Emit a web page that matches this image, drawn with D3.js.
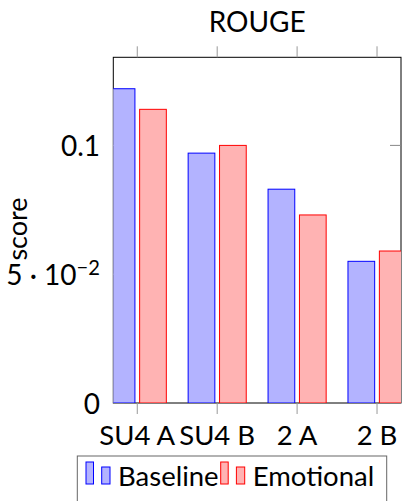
<!DOCTYPE html>
<html>
<head>
<meta charset="utf-8">
<script src="https://cdn.jsdelivr.net/npm/d3@7"></script>
<style>
	body { margin: 0; background: #fff; }
	svg { display: block; }
	text { font-family: Lato, "Open Sans", sans-serif; fill: #000; }
</style>
</head>
<body>
<div class="wrapper"></div>
<script>

var categories = ["SU4 A", "SU4 B", "2 A", "2 B"];
var baseline = [0.122, 0.097, 0.083, 0.055];
var emotional = [0.114, 0.100, 0.073, 0.059];
var seriesNames = ["Baseline", "Emotional"];
var yTicks = [0, 0.05, 0.1];
var title = "ROUGE";
var yLabel = "score";

(function() {

	var W = 402,
		H = 501,
		LEFT = 113.3,
		RIGHT = 401,
		TOP = 57.3,
		BOTTOM = 403,
		BAR_W = 26.7,
		BAR_OFF = 15.7,
		FONT = 28;

	var colors = [
		{fill: "#b3b3ff", stroke: "#0000ff"},
		{fill: "#ffb3b3", stroke: "#ff0000"}
	];

	var x = d3.scalePoint()
		.domain(categories)
		.range([LEFT, RIGHT])
		.padding(0.3);

	var y = d3.scaleLinear()
		.domain([0, 0.1342])
		.range([BOTTOM, TOP]);

	var svg = d3.select(".wrapper")
		.append("svg")
			.attr("width", W)
			.attr("height", H);

	svg.append("defs")
		.append("clipPath")
			.attr("id", "plotclip")
		.append("rect")
			.attr("x", LEFT)
			.attr("y", TOP)
			.attr("width", RIGHT - LEFT)
			.attr("height", BOTTOM - TOP);

	// ---------------- frame + ticks (under the bars) ---------------- //

	svg.append("rect")
		.attr("x", LEFT)
		.attr("y", TOP)
		.attr("width", RIGHT - LEFT)
		.attr("height", BOTTOM - TOP)
		.attr("fill", "none")
		.attr("stroke", "#000")
		.attr("stroke-width", 1);

	// x ticks, outside, top and bottom
	svg.selectAll(".xtick")
		.data(categories)
		.enter()
		.append("g")
			.attr("class", "xtick")
		.each(function(d) {
			var g = d3.select(this);
			g.append("line")
				.attr("x1", x(d)).attr("x2", x(d))
				.attr("y1", TOP - 11).attr("y2", TOP)
				.attr("stroke", "#999").attr("stroke-width", 1);
			g.append("line")
				.attr("x1", x(d)).attr("x2", x(d))
				.attr("y1", BOTTOM).attr("y2", BOTTOM + 11)
				.attr("stroke", "#999").attr("stroke-width", 1);
		});

	// y ticks, inside, left and right
	svg.selectAll(".ytick")
		.data(yTicks)
		.enter()
		.append("g")
			.attr("class", "ytick")
		.each(function(d) {
			var g = d3.select(this);
			g.append("line")
				.attr("x1", LEFT).attr("x2", LEFT + 11)
				.attr("y1", y(d)).attr("y2", y(d))
				.attr("stroke", "#888").attr("stroke-width", 1);
			g.append("line")
				.attr("x1", RIGHT - 11).attr("x2", RIGHT)
				.attr("y1", y(d)).attr("y2", y(d))
				.attr("stroke", "#888").attr("stroke-width", 1);
		});

	// ---------------- bars ---------------- //

	var series = [baseline, emotional];

	var bars = svg.append("g")
		.attr("clip-path", "url(#plotclip)");

	series.forEach(function(vals, s) {
		bars.selectAll(".bar" + s)
			.data(vals)
			.enter()
			.append("rect")
				.attr("class", "bar" + s)
				.attr("x", function(d, i) {
					return x(categories[i]) + (s === 0 ? -BAR_OFF : BAR_OFF) - BAR_W / 2;
				})
				.attr("y", function(d) {return y(d);})
				.attr("width", BAR_W)
				.attr("height", function(d) {return y(0) - y(d);})
				.attr("fill", colors[s].fill)
				.attr("stroke", colors[s].stroke)
				.attr("stroke-width", 1);
	});

	// ---------------- labels ---------------- //

	svg.append("text")
		.attr("x", (LEFT + RIGHT) / 2)
		.attr("y", 31.5)
		.attr("text-anchor", "middle")
		.attr("font-size", FONT)
		.text(title);

	svg.selectAll(".xlabel")
		.data(categories)
		.enter()
		.append("text")
			.attr("class", "xlabel")
			.attr("x", function(d) {return x(d);})
			.attr("y", 445)
			.attr("text-anchor", "middle")
			.attr("font-size", FONT - 0.5)
			.text(function(d) {return d;});

	svg.selectAll(".ylabel")
		.data(yTicks)
		.enter()
		.append("text")
			.attr("class", "ylabel")
			.attr("x", 100)
			.attr("y", function(d) {return y(d) + 11;})
			.attr("text-anchor", "end")
			.attr("font-size", FONT)
			.each(function(d) {
				var t = d3.select(this);
				if (d === 0.05) {
					t.append("tspan").text("5 \u00b7 10");
					t.append("tspan")
						.attr("dy", -10.5)
						.attr("font-size", FONT * 0.72)
						.text("\u22122");
				} else {
					t.text(d === 0 ? "0" : String(d));
				}
			});

	svg.append("text")
		.attr("transform", "translate(27,229) rotate(-90)")
		.attr("text-anchor", "middle")
		.attr("font-size", FONT - 1)
		.text(yLabel);

	// ---------------- legend ---------------- //

	var legend = svg.append("g");

	legend.append("rect")
		.attr("x", 77.3)
		.attr("y", 456)
		.attr("width", 309.4)
		.attr("height", 60)
		.attr("fill", "#fff")
		.attr("stroke", "#666")
		.attr("stroke-width", 1);

	var legendX = [86, 220.7];

	seriesNames.forEach(function(name, s) {
		var lx = legendX[s];
		legend.append("rect")
			.attr("x", lx).attr("y", 462)
			.attr("width", 7.5).attr("height", 22)
			.attr("fill", colors[s].fill).attr("stroke", colors[s].stroke)
			.attr("stroke-width", 1);
		legend.append("rect")
			.attr("x", lx + 15.7).attr("y", 467)
			.attr("width", 8.3).attr("height", 17)
			.attr("fill", colors[s].fill).attr("stroke", colors[s].stroke)
			.attr("stroke-width", 1);
		legend.append("text")
			.attr("x", lx + 32)
			.attr("y", 486)
			.attr("font-size", FONT - 0.5)
			.text(name);
	});

})();

</script>
</body>
</html>
